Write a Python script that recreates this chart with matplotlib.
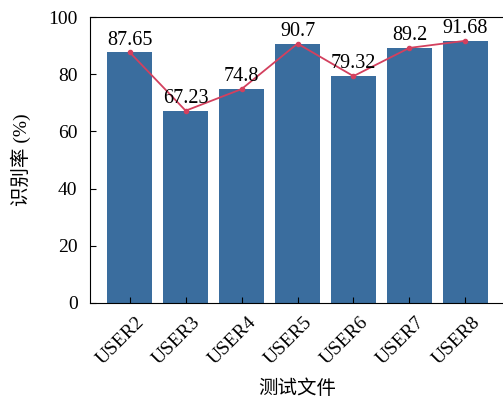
import matplotlib.pyplot as plt
import matplotlib.transforms as mtransforms
import numpy as np

users = ['USER2', 'USER3', 'USER4', 'USER5', 'USER6', 'USER7', 'USER8']
rates = [87.65, 67.23, 74.8, 90.7, 79.32, 89.2, 91.68]
labels = ['87.65', '67.23', '74.8', '90.7', '79.32', '89.2', '91.68']

plt.rcParams['font.family'] = ['Liberation Serif', 'Noto Sans CJK SC']

fig = plt.figure(figsize=(5.03, 4.05), dpi=100)
ax = fig.add_axes([0.179, 0.252, 0.825, 0.706])

x = np.arange(len(users))
ax.bar(x, rates, width=0.8, color='#3a6d9e')
ax.plot(x, rates, color='#d3405e', lw=1.3, marker='o', ms=3)

for xi, yi, s in zip(x, rates, labels):
    ax.annotate(s, (xi, yi), xytext=(0, 2), textcoords='offset points',
                ha='center', va='bottom', fontsize=14.5)

ax.set_xlim(-0.71, 6.71)
ax.set_ylim(0, 100)
ax.set_yticks([0, 20, 40, 60, 80, 100])
ax.set_xticks(x)
ax.set_xticklabels(users, rotation=45, ha='right', rotation_mode='anchor')
ax.tick_params(axis='both', direction='in', labelsize=14, length=4)
ax.tick_params(axis='x', pad=8)
ax.tick_params(axis='y', pad=9)

# nudge rotated labels a bit right, like the original
shift = mtransforms.ScaledTranslation(6 / 100, 0, fig.dpi_scale_trans)
for t in ax.get_xticklabels():
    t.set_transform(t.get_transform() + shift)

ax.set_ylabel('识别率 (%)', fontsize=14, labelpad=12)
ax.set_xlabel('测试文件', fontsize=14, labelpad=8)

fig.savefig('out.png', dpi=100)
